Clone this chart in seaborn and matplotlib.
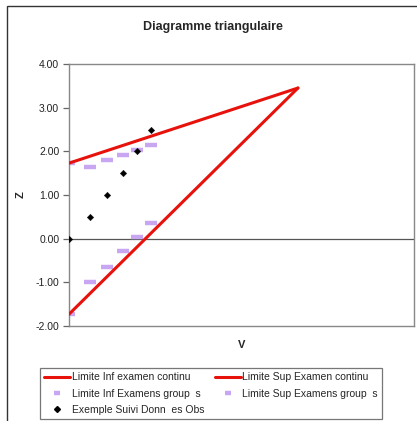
import matplotlib
matplotlib.use("Agg")
import matplotlib.pyplot as plt
import seaborn as sns
import pandas as pd
from matplotlib.lines import Line2D
from matplotlib.patches import Rectangle

sns.set_style("white")
plt.rcParams['font.family'] = ['Liberation Sans', 'DejaVu Sans']

# Continuous boundaries (V, Z)
v_cont = [0.0, 10.0]
z_inf_cont = [-1.73, 3.45]
z_sup_cont = [1.73, 3.45]

# Grouped examinations boundaries
v_group = [0.0, 0.92, 1.66, 2.36, 2.97, 3.58]
z_inf_group = [-1.73, -1.00, -0.65, -0.28, 0.03, 0.37]
z_sup_group = [1.73, 1.65, 1.80, 1.92, 2.03, 2.15]

# Observed data
v_obs = [0.0, 0.92, 1.66, 2.36, 2.97, 3.58]
z_obs = [0.0, 0.5, 1.0, 1.5, 2.0, 2.5]

yticks = [-2.0, -1.0, 0.0, 1.0, 2.0, 3.0, 4.0]

lab_inf_c = "Limite Inf examen continu"
lab_sup_c = "Limite Sup Examen continu"
lab_inf_g = "Limite Inf Examens group  s"
lab_sup_g = "Limite Sup Examens group  s"
lab_obs = "Exemple Suivi Donn  es Obs"

red = "#e8120c"
lilac = "#c9a6f2"

fig = plt.figure(figsize=(4.17, 4.21), dpi=100)
W, H = 417, 421
ax = fig.add_axes([69 / W, 1 - 326 / H, (414 - 69) / W, (326 - 64) / H])

df_c = pd.DataFrame({"V": v_cont, "inf": z_inf_cont, "sup": z_sup_cont})
df_g = pd.DataFrame({"V": v_group, "inf": z_inf_group, "sup": z_sup_group})
df_o = pd.DataFrame({"V": v_obs, "Z": z_obs})

ax.axhline(0, color="#555555", lw=0.9, zorder=1)
sns.lineplot(data=df_c, x="V", y="inf", ax=ax, color=red, lw=2.2, zorder=3)
sns.lineplot(data=df_c, x="V", y="sup", ax=ax, color=red, lw=2.2, zorder=3)
ax.plot(df_g["V"], df_g["inf"], ls="none", marker="_", ms=9, mew=3.2,
        color=lilac, zorder=2)
ax.plot(df_g["V"], df_g["sup"], ls="none", marker="_", ms=9, mew=3.2,
        color=lilac, zorder=2)
sns.scatterplot(data=df_o, x="V", y="Z", ax=ax, marker="D", s=11,
                color="black", edgecolor="black", zorder=4)

ax.set_xlim(0, 15.07)
ax.set_ylim(-2, 4)
ax.set_yticks(yticks)
ax.set_yticklabels([f"{t:.2f}" for t in yticks], fontsize=7.5, color="#222222")
ax.set_xticks([])
for s in ax.spines.values():
    s.set_color("#888888")
    s.set_linewidth(1.0)
ax.tick_params(axis="y", direction="out", length=4, width=0.9,
               color="#666666", left=True, pad=3)
ax.set_xlabel("V", fontsize=8, fontweight="bold", labelpad=10)
ax.set_ylabel("Z", fontsize=8, fontweight="bold", labelpad=7)
fig.text(213 / W, 1 - 27 / H, "Diagramme triangulaire", fontsize=9,
         fontweight="bold", ha="center", va="center")

handles = [
    Line2D([], [], color=red, lw=2.2),
    Line2D([], [], ls="none", marker="_", ms=5, mew=3.2, color=lilac),
    Line2D([], [], ls="none", marker="D", ms=3, color="black"),
    Line2D([], [], color=red, lw=2.2),
    Line2D([], [], ls="none", marker="_", ms=5, mew=3.2, color=lilac),
]
labels = [lab_inf_c, lab_inf_g, lab_obs, lab_sup_c, lab_sup_g]
leg = fig.legend(handles, labels, loc="upper left",
                 bbox_to_anchor=(40 / W, 1 - 368 / H), ncol=2,
                 fontsize=7.5, frameon=True, fancybox=False,
                 handlelength=2.5, handletextpad=0.15, columnspacing=1.0,
                 labelspacing=0.62, borderpad=0.4, borderaxespad=0)
leg.get_frame().set_edgecolor("#555555")
leg.get_frame().set_linewidth(0.9)

# outer chart frame
fig.add_artist(Rectangle((7 / W, -0.01), 1.0, 1 - 6 / H + 0.01,
                         transform=fig.transFigure, fill=False,
                         edgecolor="#333333", lw=1.0))

fig.savefig("out.png", dpi=100)
